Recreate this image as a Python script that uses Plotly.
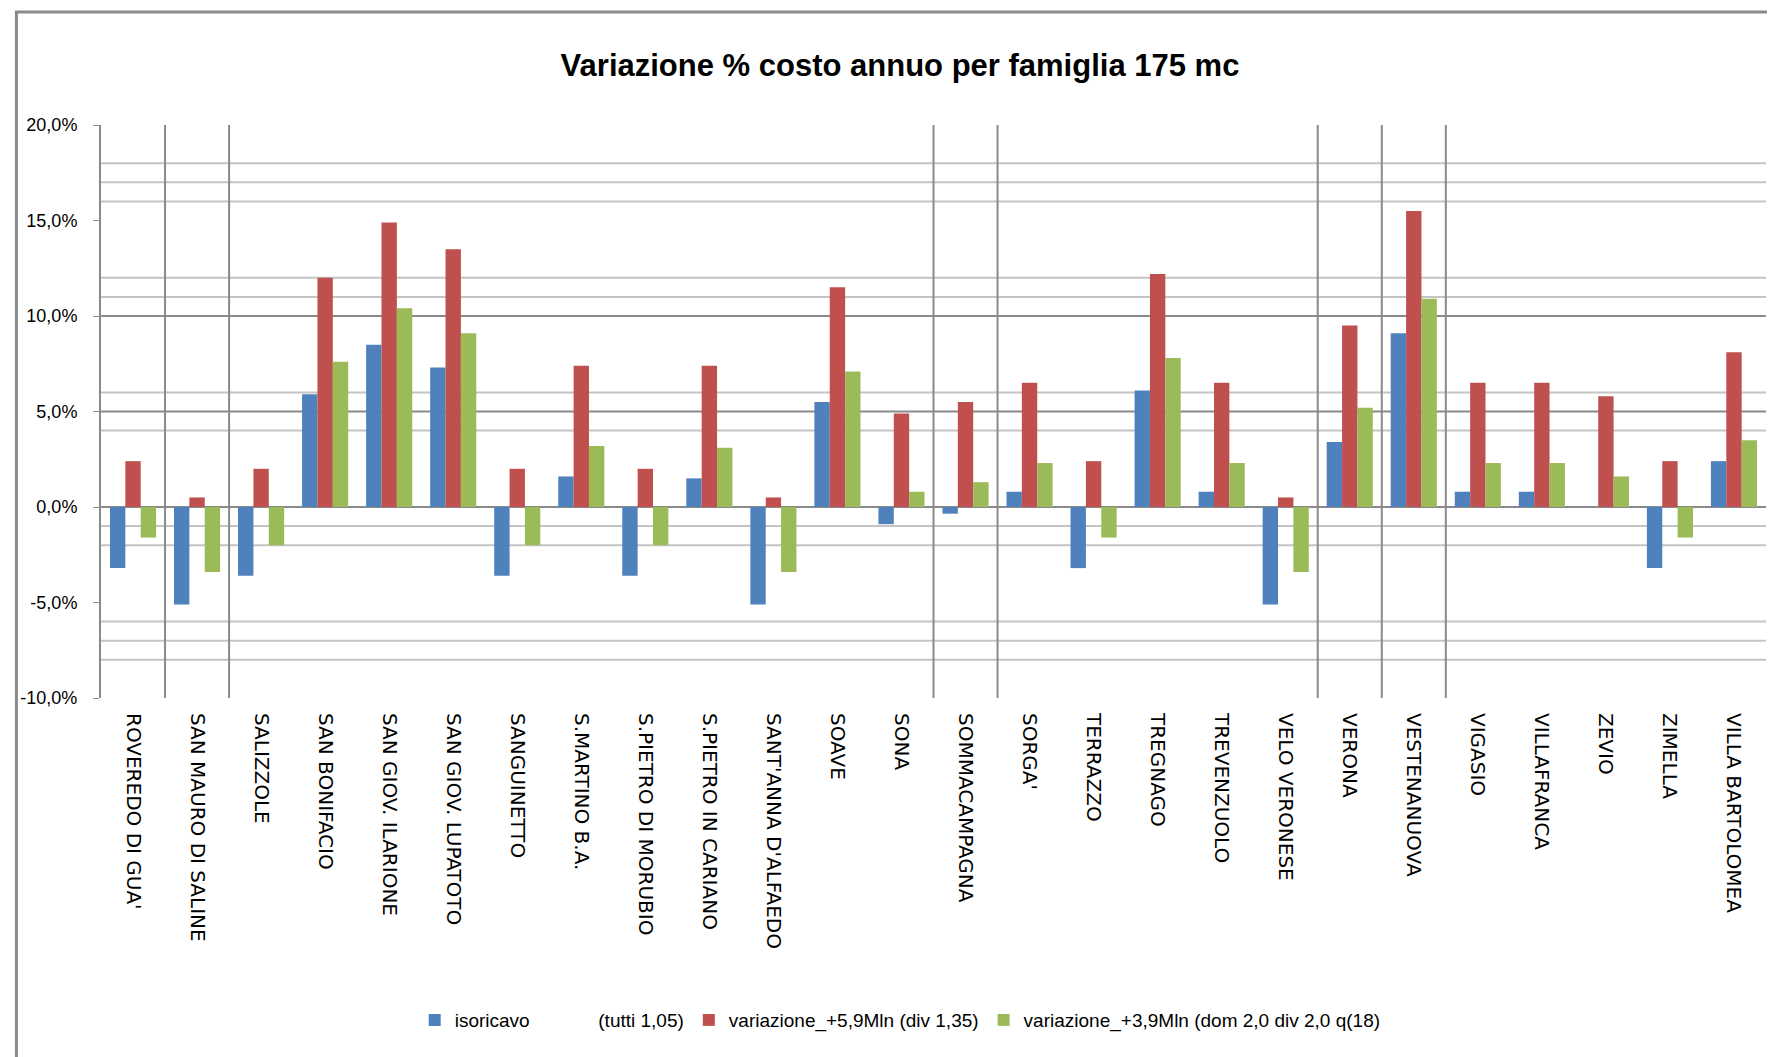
import plotly.graph_objects as go

# === data ===
comuni = [
    "ROVEREDO DI GUA'", "SAN MAURO DI SALINE", "SALIZZOLE", "SAN BONIFACIO",
    "SAN GIOV. ILARIONE", "SAN GIOV. LUPATOTO", "SANGUINETTO", "S.MARTINO B.A.",
    "S.PIETRO DI MORUBIO", "S.PIETRO IN CARIANO", "SANT'ANNA D'ALFAEDO", "SOAVE",
    "SONA", "SOMMACAMPAGNA", "SORGA'", "TERRAZZO", "TREGNAGO", "TREVENZUOLO",
    "VELO VERONESE", "VERONA", "VESTENANUOVA", "VIGASIO", "VILLAFRANCA",
    "ZEVIO", "ZIMELLA", "VILLA BARTOLOMEA",
]
isoricavo = [-3.2, -5.1, -3.6, 5.9, 8.5, 7.3, -3.6, 1.6, -3.6, 1.5, -5.1, 5.5,
             -0.9, -0.35, 0.8, -3.2, 6.1, 0.8, -5.1, 3.4, 9.1, 0.8, 0.8, 0.0, -3.2, 2.4]
var_59 = [2.4, 0.5, 2.0, 12.0, 14.9, 13.5, 2.0, 7.4, 2.0, 7.4, 0.5, 11.5,
          4.9, 5.5, 6.5, 2.4, 12.2, 6.5, 0.5, 9.5, 15.5, 6.5, 6.5, 5.8, 2.4, 8.1]
var_39 = [-1.6, -3.4, -2.0, 7.6, 10.4, 9.1, -2.0, 3.2, -2.0, 3.1, -3.4, 7.1,
          0.8, 1.3, 2.3, -1.6, 7.8, 2.3, -3.4, 5.2, 10.9, 2.3, 2.3, 1.6, -1.6, 3.5]

serie_nomi = [
    "isoricavo             (tutti 1,05)",
    "variazione_+5,9Mln (div 1,35)",
    "variazione_+3,9Mln (dom 2,0 div 2,0 q(18)",
]
colori = ["#4F81BD", "#C0504D", "#9BBB59"]

y_tick_vals = [-10, -5, 0, 5, 10, 15, 20]
y_tick_text = ["-10,0%", "-5,0%", "0,0%", "5,0%", "10,0%", "15,0%", "20,0%"]
righe_scure = [10, 5, 0]
righe_chiare = [18, 17, 16, 12, 11, 6, 4, -1, -2, -6, -7, -8]
separatori = [1, 2, 13, 14, 19, 20, 21]  # category boundaries with vertical lines

fig = go.Figure()
for nome, valori, col in zip(serie_nomi, [isoricavo, var_59, var_39], colori):
    fig.add_trace(go.Bar(x=comuni, y=valori, name=nome, marker_color=col,
                         marker_line_width=0))

shapes = []
for v in righe_chiare:
    shapes.append(dict(type="line", xref="paper", yref="y", x0=0, x1=1, y0=v, y1=v,
                       line=dict(color="#C4C4C4", width=2), layer="below"))
for v in righe_scure:
    shapes.append(dict(type="line", xref="paper", yref="y", x0=0, x1=1, y0=v, y1=v,
                       line=dict(color="#8A8A8A", width=2), layer="below"))
for b in separatori:
    shapes.append(dict(type="line", xref="x", yref="paper", x0=b - 0.5, x1=b - 0.5,
                       y0=0, y1=1, line=dict(color="#8A8A8A", width=2), layer="below"))
# outer chart border
shapes.append(dict(type="rect", xref="paper", yref="paper", x0=-0.0508, x1=1.2,
                   y0=-0.7, y1=1.197, line=dict(color="#8A8A8A", width=3)))

fig.update_layout(
    width=1775, height=1057,
    margin=dict(l=86, r=17, t=117, b=367),
    paper_bgcolor="white", plot_bgcolor="white",
    title=dict(text="<b>Variazione % costo annuo per famiglia 175 mc</b>",
               x=892 / 1775, xanchor="center", y=1 - 57 / 1057, yanchor="middle",
               font=dict(family="Liberation Sans, Arial, sans-serif",
                         size=31, color="black")),
    barmode="group", bargap=0.28, bargroupgap=0,
    shapes=shapes,
    showlegend=True,
    legend=dict(orientation="h", x=0.480, xanchor="center", y=-0.562, yanchor="middle",
                font=dict(family="Liberation Sans, sans-serif", size=19,
                          color="black"),
                itemwidth=30, tracegroupgap=0),
    font=dict(family="Liberation Sans, Arial, sans-serif", color="black"),
)
fig.update_xaxes(
    tickangle=90, showgrid=False, showline=False, ticks="",
    tickfont=dict(size=20, family="DejaVu Sans, sans-serif"),
    ticklabelstandoff=14,
    range=[-0.5, len(comuni) - 0.5],
)
fig.update_yaxes(
    range=[-10, 20], tickvals=y_tick_vals, ticktext=y_tick_text,
    showgrid=False, zeroline=False, showline=True, linecolor="#8A8A8A", linewidth=2,
    ticks="outside", ticklen=6, tickcolor="#8A8A8A", ticklabelstandoff=12,
    tickfont=dict(size=18, family="Liberation Sans, sans-serif"),
)

fig.write_html("out.html")
